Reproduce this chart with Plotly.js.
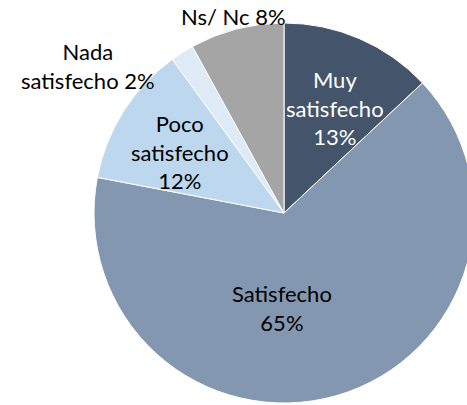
<!DOCTYPE html>
<html>
<head>
<meta charset="utf-8">
<script src="https://cdn.plot.ly/plotly-3.0.1.min.js"></script>
<style>
  html, body { margin: 0; padding: 0; overflow: hidden; background: #fff; }
</style>
</head>
<body>
<div id="chart"></div>
<script>
// Grado de satisfacción
const labels = ['Muy<br>satisfecho', 'Satisfecho', 'Poco<br>satisfecho', 'Nada<br>satisfecho', 'Ns/ Nc'];
const values = [13, 65, 12, 2, 8];
const colors = ['#44546a', '#8497b0', '#bdd7ee', '#deebf7', '#a5a5a5'];

// etiquetas como anotaciones (Plotly encoge el texto interior si no)
const sep = ['<br>', '<br>', '<br>', ' ', ' '];
const textColors = ['#ffffff', '#000000', '#000000', '#000000', '#000000'];
const labelX = [0.634, 0.495, 0.226, -0.016, 0.368];
const labelY = [0.776, 0.250, 0.661, 0.887, 1.016];

const data = [{
    type: 'pie',
    labels: labels,
    values: values,
    sort: false,
    direction: 'clockwise',
    rotation: 0,
    textinfo: 'none',
    marker: {
        colors: colors,
        line: { color: '#ffffff', width: 1 }
    },
    hoverinfo: 'none'
}];

const annotations = labels.map((lab, i) => ({
    text: lab + sep[i] + values[i] + '%',
    xref: 'paper', yref: 'paper',
    x: labelX[i], y: labelY[i],
    xanchor: 'center', yanchor: 'middle',
    showarrow: false,
    font: { color: textColors[i] }
}));

const layout = {
    width: 474,
    height: 405,
    margin: { l: 94, r: 0, t: 23, b: 2 },
    showlegend: false,
    paper_bgcolor: '#ffffff',
    font: { family: 'Lato, sans-serif', size: 22, color: '#000000' },
    annotations: annotations
};

Plotly.newPlot('chart', data, layout, { displayModeBar: false, staticPlot: true });
</script>
</body>
</html>
